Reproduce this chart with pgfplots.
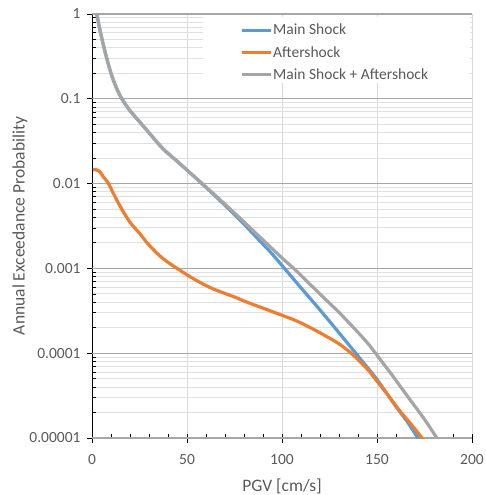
\documentclass[border=0pt]{standalone}
\usepackage{pgfplots}
\pgfplotsset{compat=1.18}
\usepackage{fontspec}
\setmainfont{Carlito}
\definecolor{cblue}{HTML}{5B9BD5}
\definecolor{corange}{HTML}{ED7D31}
\definecolor{cgray}{HTML}{A5A5A5}
\definecolor{textgray}{HTML}{595959}
\definecolor{gridmajor}{HTML}{A6A6A6}
\definecolor{gridminor}{HTML}{E0E0E0}
\definecolor{gridvert}{HTML}{D9D9D9}

\pgfplotstableread{
x y
2.3 1.05
2.5 1.0
4 0.676
5.5 0.479
7.5 0.316
10 0.1995
13 0.132
16 0.0977
20 0.0724
25 0.0537
30 0.0398
37.4 0.0257
45 0.0182
51.6 0.0134
57 0.0104
67.4 0.0063
78 0.0037
88.4 0.0021
94 0.00155
100.5 0.00105
110 0.00059
120 0.000324
130 0.000174
141 0.000087
150 0.000049
160 0.0000234
166 0.0000155
171.5 0.0000100
175 0.0000075
}\mainshock

\pgfplotstableread{
x y
0.5 0.0145
2 0.0146
4 0.0139
6 0.0120
8.5 0.0102
11.2 0.0077
15 0.0053
20 0.0035
25 0.0026
29 0.0020
35 0.00145
40 0.00118
46 0.00096
50 0.00084
56 0.00070
64 0.00057
75 0.00046
81.5 0.00040
90 0.00034
100 0.00028
106.8 0.000245
113 0.00021
120 0.000174
130 0.000129
137.5 0.000095
145 0.0000646
150 0.0000468
156 0.0000316
162 0.0000209
168 0.0000145
173.7 0.0000100
178 0.0000072
}\aftershock

\pgfplotstableread{
x y
2.3 1.05
2.5 1.0
4 0.676
5.5 0.479
7.5 0.316
10 0.1995
13 0.132
16 0.0977
20 0.0724
25 0.0537
30 0.0398
37.4 0.0257
45 0.0182
51.6 0.0134
57 0.0105
67.4 0.00646
78 0.00389
88.4 0.00234
100 0.00133
106.8 0.00097
113 0.00071
120 0.000498
130 0.000303
140 0.000176
145 0.000132
150 0.000095
154 0.000072
158 0.0000550
165.8 0.0000316
175 0.0000166
181.5 0.0000100
185 0.0000075
}\combined

\begin{document}
\begin{tikzpicture}
\path[use as bounding box] (-92bp,-57bp) rectangle (394bp,438bp);
\begin{axis}[
  scale only axis, width=380bp, height=424bp,
  at={(0,0)}, anchor=south west,
  ymode=log, xmin=0, xmax=200, ymin=1e-5, ymax=1,
  axis lines=left, axis line style={-, black, line width=0.9bp},
  xtick={0,50,...,200}, minor x tick num=4,
  ytick={1e-5,1e-4,1e-3,1e-2,1e-1,1},
  yticklabels={0.00001,0.0001,0.001,0.01,0.1,1},
  tick align=inside,
  major tick length=4.5bp, minor tick length=4.5bp,
  every tick/.style={black, line width=0.8bp},
  xmajorgrids=true, xminorgrids=false,
  ymajorgrids=false, yminorgrids=true,
  major grid style={gridvert, line width=0.9bp},
  minor grid style={gridminor, line width=0.9bp},
  extra x ticks={0,50,100,150,200},
  extra x tick labels={},
  extra x tick style={xmajorgrids=false, xminorgrids=false, tick align=outside, major tick length=5bp},
  extra y ticks={1e-5,1e-4,1e-3,1e-2,1e-1,1},
  extra y tick labels={},
  extra y tick style={ymajorgrids=true, yminorgrids=false, major grid style={gridmajor, line width=1.3bp}, tick align=outside, major tick length=5bp},
  /pgf/number format/assume math mode=true,
  tick label style={font=\fontsize{15.5bp}{18bp}\selectfont, text=textgray},
  yticklabel style={xshift=-8bp},
  xticklabel style={yshift=-13bp},
  xlabel={PGV [cm/s]},
  ylabel={Annual Exceedance Probability},
  label style={font=\fontsize{17.5bp}{21bp}\selectfont, text=textgray},
  xlabel style={at={(axis description cs:0.5,-0.1132)}, anchor=center},
  ylabel style={at={(axis description cs:-0.1895,0.5)}, anchor=center},
  legend style={at={(axis description cs:0.389,0.979)}, anchor=north west, draw=none, fill=none, inner sep=0pt, row sep=8bp, font=\fontsize{15.5bp}{18bp}\selectfont, text=textgray, nodes={inner sep=1bp}},
  legend cell align=left,
  legend image code/.code={\draw[#1, line width=3.2bp] (0bp,0bp) -- (29bp,0bp);},
  clip=true,
]
\fill[white] (axis description cs:0.292,0.993) rectangle (axis description cs:0.995,0.837);
\addplot[cblue, line width=3.2bp, smooth, tension=0.5] table[x=x,y=y] {\mainshock};
\addlegendentry{Main Shock}
\addplot[corange, line width=3.2bp, smooth, tension=0.5] table[x=x,y=y] {\aftershock};
\addlegendentry{Aftershock}
\addplot[cgray, line width=3.2bp, smooth, tension=0.5] table[x=x,y=y] {\combined};
\addlegendentry{Main Shock + Aftershock}
\end{axis}
\end{tikzpicture}
\end{document}
